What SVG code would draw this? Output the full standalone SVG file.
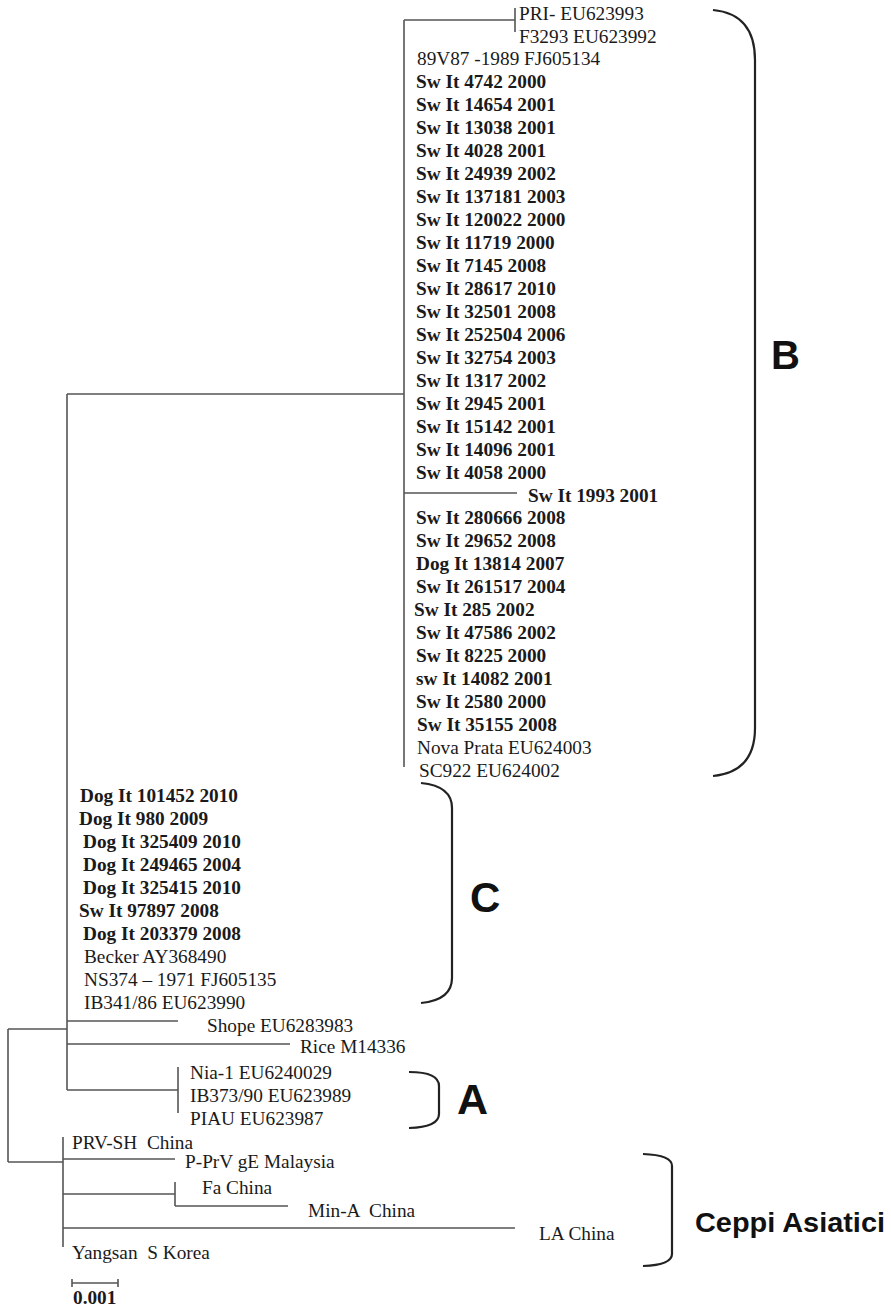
<svg xmlns="http://www.w3.org/2000/svg" width="891" height="1306" viewBox="0 0 891 1306">
<style>
.t{font-family:"Liberation Serif","Times New Roman",serif;font-size:19.3px;fill:#1a1a1a;white-space:pre}
.b{font-weight:bold}
.lbl{font-family:"Liberation Sans",Arial,sans-serif;font-weight:bold;fill:#111}
.br{fill:none;stroke:#222;stroke-width:2.2}
.e{fill:none;stroke:#555;stroke-width:1.6}
</style>
<rect width="891" height="1306" fill="#fff"/>
<g id="connectors" class="e">
<path d="M8,1029 V1162"/>
<path d="M8,1029 H67"/>
<path d="M8,1162 H63"/>
<path d="M67,394 V1090"/>
<path d="M67,394 H404"/>
<path d="M404,20 V767"/>
<path d="M404,20 H515"/>
<path d="M515,8 V32"/>
<path d="M404,493 H517"/>
<path d="M67,1021 H178"/>
<path d="M67,1044 H290"/>
<path d="M67,1090 H178"/>
<path d="M178,1067 V1113"/>
<path d="M63,1137 V1247"/>
<path d="M63,1159 H175"/>
<path d="M63,1194 H175"/>
<path d="M175,1182 V1206"/>
<path d="M175,1206 H288"/>
<path d="M63,1228 H515"/>
<path d="M72,1283 H118 M72,1279 V1287 M118,1279 V1287"/>
</g>
<g id="cladeB">
<text class="t" x="519" y="19.5">PRI- EU623993</text>
<text class="t" x="519" y="42.5">F3293 EU623992</text>
<text class="t" x="417" y="65.4">89V87 -1989 FJ605134</text>
<text class="t b" x="416" y="88.4">Sw It 4742 2000</text>
<text class="t b" x="416" y="111.3">Sw It 14654 2001</text>
<text class="t b" x="416" y="134.3">Sw It 13038 2001</text>
<text class="t b" x="416" y="157.2">Sw It 4028 2001</text>
<text class="t b" x="416" y="180.2">Sw It 24939 2002</text>
<text class="t b" x="416" y="203.1">Sw It 137181 2003</text>
<text class="t b" x="416" y="226.1">Sw It 120022 2000</text>
<text class="t b" x="416" y="249">Sw It 11719 2000</text>
<text class="t b" x="416" y="272">Sw It 7145 2008</text>
<text class="t b" x="416" y="294.9">Sw It 28617 2010</text>
<text class="t b" x="416" y="317.9">Sw It 32501 2008</text>
<text class="t b" x="416" y="340.8">Sw It 252504 2006</text>
<text class="t b" x="416" y="363.8">Sw It 32754 2003</text>
<text class="t b" x="416" y="386.7">Sw It 1317 2002</text>
<text class="t b" x="416" y="409.7">Sw It 2945 2001</text>
<text class="t b" x="416" y="432.6">Sw It 15142 2001</text>
<text class="t b" x="416" y="455.6">Sw It 14096 2001</text>
<text class="t b" x="416" y="478.5">Sw It 4058 2000</text>
<text class="t b" x="528" y="501.5">Sw It 1993 2001</text>
<text class="t b" x="416" y="524.4">Sw It 280666 2008</text>
<text class="t b" x="416" y="547.4">Sw It 29652 2008</text>
<text class="t b" x="416" y="570.3">Dog It 13814 2007</text>
<text class="t b" x="416" y="593.3">Sw It 261517 2004</text>
<text class="t b" x="414" y="616.2">Sw It 285 2002</text>
<text class="t b" x="416" y="639.2">Sw It 47586 2002</text>
<text class="t b" x="416" y="662.1">Sw It 8225 2000</text>
<text class="t b" x="416" y="685.1">sw It 14082 2001</text>
<text class="t b" x="416" y="708">Sw It 2580 2000</text>
<text class="t b" x="417" y="731">Sw It 35155 2008</text>
<text class="t" x="417" y="753.9">Nova Prata EU624003</text>
<text class="t" x="419" y="776.9">SC922 EU624002</text>
</g>
<g id="bracketB">
<path class="br" d="M713,10 Q755,14 755,60 V728 Q755,772 713,776"/>
<text class="lbl" x="771" y="369" font-size="40">B</text>
</g>
<g id="cladeC">
<text class="t b" x="80" y="801.5">Dog It 101452 2010</text>
<text class="t b" x="79" y="824.5">Dog It 980 2009</text>
<text class="t b" x="83" y="847.5">Dog It 325409 2010</text>
<text class="t b" x="83" y="870.5">Dog It 249465 2004</text>
<text class="t b" x="83" y="893.5">Dog It 325415 2010</text>
<text class="t b" x="79" y="916.5">Sw It 97897 2008</text>
<text class="t b" x="83" y="939.5">Dog It 203379 2008</text>
<text class="t" x="84" y="962.5">Becker AY368490</text>
<text class="t" x="84" y="985.5">NS374 – 1971 FJ605135</text>
<text class="t" x="84" y="1008.5">IB341/86 EU623990</text>
</g>
<g id="bracketC">
<path class="br" d="M421,783 Q452,786 452,808 V978 Q452,1000 421,1003"/>
<text class="lbl" x="470" y="912" font-size="42">C</text>
</g>
<g id="shope"><text class="t" x="207" y="1031.5">Shope EU6283983</text></g>
<g id="rice"><text class="t" x="300" y="1052.5">Rice M14336</text></g>
<g id="cladeA">
<text class="t" x="190" y="1078.5">Nia-1 EU6240029</text>
<text class="t" x="190" y="1101.5">IB373/90 EU623989</text>
<text class="t" x="190" y="1124.5">PIAU EU623987</text>
</g>
<g id="bracketA">
<path class="br" d="M409,1072 Q439,1072 439,1086 V1114 Q439,1127 409,1128"/>
<text class="lbl" x="457" y="1114" font-size="43">A</text>
</g>
<g id="asian">
<text class="t" x="72" y="1148.5" xml:space="preserve">PRV-SH  China</text>
<text class="t" x="185" y="1167.5">P-PrV gE Malaysia</text>
<text class="t" x="202" y="1193.5">Fa China</text>
<text class="t" x="308" y="1216.5" xml:space="preserve">Min-A  China</text>
<text class="t" x="539" y="1239.5">LA China</text>
<text class="t" x="72" y="1258.5" xml:space="preserve">Yangsan  S Korea</text>
</g>
<g id="bracketAsian">
<path class="br" d="M643,1154 Q672,1155 672,1166 V1254 Q672,1265 643,1266"/>
<text class="lbl" x="695" y="1232" font-size="27" textLength="190" lengthAdjust="spacingAndGlyphs">Ceppi Asiatici</text>
</g>
<g id="scale">
<text class="t b" x="73" y="1304">0.001</text>
</g>
</svg>
